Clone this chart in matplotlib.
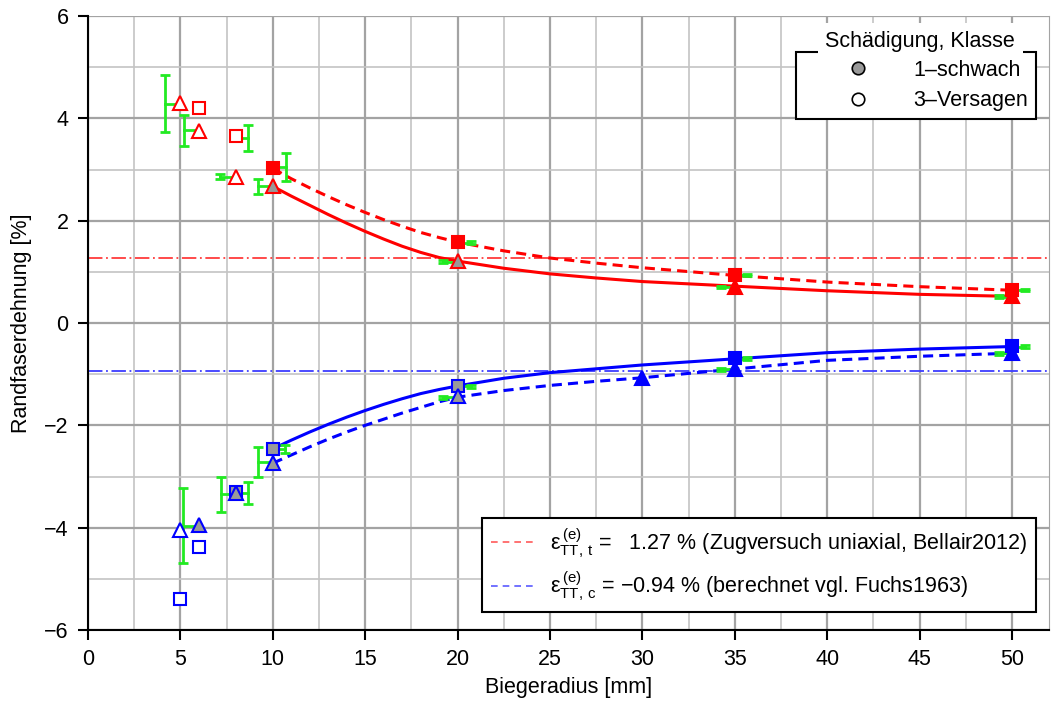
import matplotlib
matplotlib.use('Agg')
import matplotlib.pyplot as plt
import numpy as np
from matplotlib.lines import Line2D
from matplotlib.ticker import MultipleLocator
from matplotlib.transforms import IdentityTransform

plt.rcParams['font.family'] = ['Liberation Sans', 'DejaVu Sans']
plt.rcParams['font.size'] = 15.5
plt.rcParams['mathtext.default'] = 'regular'

GREEN = '#22ea22'
GRAY = '#999999'

# reference values
eps_t = 1.27
eps_c = -0.94

# tension side (red), triangles / squares
t_tri_x = [5, 6, 8, 10, 20, 35, 50]
t_tri_y = [4.30, 3.76, 2.86, 2.67, 1.21, 0.71, 0.52]
t_tri_fill = ['white', 'white', 'white', GRAY, GRAY, 'red', 'red']
t_sq_x = [6, 8, 10, 20, 35, 50]
t_sq_y = [4.21, 3.65, 3.03, 1.58, 0.94, 0.65]
t_sq_fill = ['white', 'white', 'red', 'red', 'red', 'red']

# compression side (blue)
c_tri_x = [5, 6, 8, 10, 20, 30, 35, 50]
c_tri_y = [-4.04, -3.94, -3.33, -2.74, -1.43, -1.07, -0.89, -0.58]
c_tri_fill = ['white', GRAY, GRAY, GRAY, GRAY, 'blue', 'blue', 'blue']
c_sq_x = [5, 6, 8, 10, 20, 35, 50]
c_sq_y = [-5.40, -4.37, -3.31, -2.46, -1.23, -0.68, -0.45]
c_sq_fill = ['white', 'white', GRAY, GRAY, GRAY, 'blue', 'blue']

# scatter bars: marker x, bar x, lower, upper
t_err_mx = [5, 6, 8, 10, 20, 35, 50, 8, 10, 20, 35, 50]
t_err_bx = [4.18, 5.2, 7.14, 9.18, 19.2, 34.25, 49.3, 8.68, 10.7, 20.7, 35.66, 50.7]
t_err_lo = [3.73, 3.46, 2.81, 2.53, 1.17, 0.69, 0.49, 3.36, 2.78, 1.54, 0.91, 0.62]
t_err_hi = [4.84, 4.07, 2.91, 2.81, 1.23, 0.73, 0.54, 3.86, 3.32, 1.60, 0.96, 0.67]

c_err_mx = [6, 8, 10, 20, 35, 50, 8, 10, 20, 35, 50]
c_err_bx = [5.16, 7.2, 9.18, 19.2, 34.25, 49.3, 8.68, 10.66, 20.7, 35.66, 50.7]
c_err_lo = [-4.69, -3.70, -3.00, -1.48, -0.93, -0.62, -3.53, -2.54, -1.27, -0.73, -0.49]
c_err_hi = [-3.23, -3.00, -2.43, -1.42, -0.87, -0.56, -3.11, -2.38, -1.21, -0.67, -0.43]

# fitted curves
fit_x = [10, 11, 12, 13, 14, 15, 16, 17, 18, 19, 20, 22.5, 25, 27.5, 30, 35, 40, 45, 50]
t_fit_solid = [2.67, 2.48, 2.30, 2.12, 1.95, 1.79, 1.64, 1.50, 1.38, 1.28, 1.21,
               1.07, 0.96, 0.88, 0.81, 0.72, 0.63, 0.56, 0.52]
t_fit_dash = [3.02, 2.82, 2.64, 2.47, 2.31, 2.16, 2.02, 1.89, 1.77, 1.67, 1.58,
              1.41, 1.27, 1.17, 1.08, 0.93, 0.80, 0.71, 0.64]
c_fit_solid = [-2.46, -2.29, -2.13, -1.98, -1.84, -1.71, -1.59, -1.48, -1.38, -1.30, -1.23,
               -1.08, -0.97, -0.895, -0.82, -0.70, -0.58, -0.51, -0.46]
c_fit_dash = [-2.74, -2.58, -2.42, -2.27, -2.13, -2.00, -1.88, -1.76, -1.65, -1.54, -1.45,
              -1.32, -1.22, -1.14, -1.07, -0.90, -0.73, -0.65, -0.59]

legend1_labels = ['1\u2013schwach', '3\u2013Versagen']
legend1_title = 'Schädigung, Klasse'
legend2_labels = [
    '$ε^{\\,(e)}_{TT,\\,t}$ =   1.27 % (Zugversuch uniaxial, Bellair2012)',
    '$ε^{\\,(e)}_{TT,\\,c}$ = \u22120.94 % (berechnet vgl. Fuchs1963)',
]


def draw_bars(axis, marker_x, bar_x, lo, hi):
    for mx, bx, l, h in zip(marker_x, bar_x, lo, hi):
        center = (l + h) / 2
        axis.errorbar([bx], [center], yerr=[[center - l], [h - center]],
                      fmt='none', ecolor=GREEN, elinewidth=2,
                      capsize=3.8, capthick=2, zorder=4)
        axis.plot([bx, mx], [center, center], color=GREEN, lw=2, zorder=4)


def draw_markers(axis, xs, ys, fills, marker, edge, size):
    for x, y, f in zip(xs, ys, fills):
        axis.plot([x], [y], ls='none', marker=marker, ms=size, mfc=f,
                  mec=edge, mew=1.5, zorder=5)


fig = plt.figure(figsize=(10.51, 7.04), dpi=100)
ax = fig.add_axes([88 / 1051, 74 / 704, 961 / 1051, 614 / 704])
ax.set_xlim(0, 52)
ax.set_ylim(-6, 6)
ax.set_xticks(np.arange(0, 51, 5))
ax.set_yticks(np.arange(-6, 7, 2))
ax.xaxis.set_minor_locator(MultipleLocator(2.5))
ax.yaxis.set_minor_locator(MultipleLocator(1))
ax.grid(which='major', color='#a3a3a3', lw=1.6, zorder=0)
ax.grid(which='minor', color='#c4c4c4', lw=1.2, zorder=0)
ax.set_axisbelow(True)
ax.tick_params(which='minor', length=0)
ax.tick_params(which='major', direction='out', length=7.5, width=1.5, pad=6.5)
ax.spines['top'].set_visible(False)
ax.spines['right'].set_color('#a3a3a3')
ax.spines['left'].set_linewidth(1.5)
ax.spines['bottom'].set_linewidth(1.5)

ax.axhline(eps_t, color='#ff3c3c', lw=1.3, dashes=(8, 2, 1, 2), zorder=2)
ax.axhline(eps_c, color='#3c3cff', lw=1.3, dashes=(8, 2, 1, 2), zorder=2)

ax.plot(fit_x, t_fit_solid, color='red', lw=2.2, zorder=3)
ax.plot(fit_x, t_fit_dash, color='red', lw=2.2, dashes=(3.3, 2), zorder=3)
ax.plot(fit_x, c_fit_solid, color='blue', lw=2.2, zorder=3)
ax.plot(fit_x, c_fit_dash, color='blue', lw=2.2, dashes=(3.3, 2), zorder=3)

draw_bars(ax, t_err_mx, t_err_bx, t_err_lo, t_err_hi)
draw_bars(ax, c_err_mx, c_err_bx, c_err_lo, c_err_hi)

draw_markers(ax, t_sq_x, t_sq_y, t_sq_fill, 's', 'red', 8)
draw_markers(ax, t_tri_x, t_tri_y, t_tri_fill, '^', 'red', 9.5)
draw_markers(ax, c_sq_x, c_sq_y, c_sq_fill, 's', 'blue', 8)
draw_markers(ax, c_tri_x, c_tri_y, c_tri_fill, '^', 'blue', 9.5)

ax.set_xlabel('Biegeradius [mm]', labelpad=5)
ax.set_ylabel('Randfaserdehnung [%]', labelpad=9)

handles1 = [Line2D([], [], ls='none', marker='o', ms=9, mfc=GRAY, mec='black', mew=1.2),
            Line2D([], [], ls='none', marker='o', ms=9, mfc='white', mec='black', mew=1.2)]
leg1 = ax.legend(handles1, legend1_labels, loc='upper right',
                 bbox_to_anchor=((1036 - 88) / 961, (630 - 52) / 614),
                 borderaxespad=0, borderpad=0.35, handlelength=5.0,
                 handletextpad=0.1, labelspacing=0.45, fancybox=False,
                 framealpha=1, edgecolor='black')
leg1.get_frame().set_linewidth(1.5)
leg1.set_zorder(10)
ax.add_artist(leg1)

handles2 = [Line2D([], [], color='#ff5a5a', lw=1.2, dashes=(4, 3)),
            Line2D([], [], color='#5a5aff', lw=1.2, dashes=(4, 3))]
leg2 = ax.legend(handles2, legend2_labels, loc='lower right',
                 bbox_to_anchor=((1036 - 88) / 961, (630 - 612) / 614),
                 borderaxespad=0, borderpad=0.4, handlelength=2.0,
                 handletextpad=0.75, labelspacing=0.45, fancybox=False,
                 framealpha=1, edgecolor='black')
leg2.get_frame().set_linewidth(1.5)
leg2.set_zorder(10)

# legend title sitting on the frame's top edge
fig.canvas.draw()
bb = leg1.get_frame().get_window_extent()
fig.text((bb.x0 + bb.x1) / 2 + 4, bb.y1 + 5, legend1_title, ha='center',
         va='baseline', transform=IdentityTransform(), zorder=20,
         bbox=dict(boxstyle='square,pad=0.35', fc='white', ec='none'))

fig.savefig('out.png', dpi=100)
